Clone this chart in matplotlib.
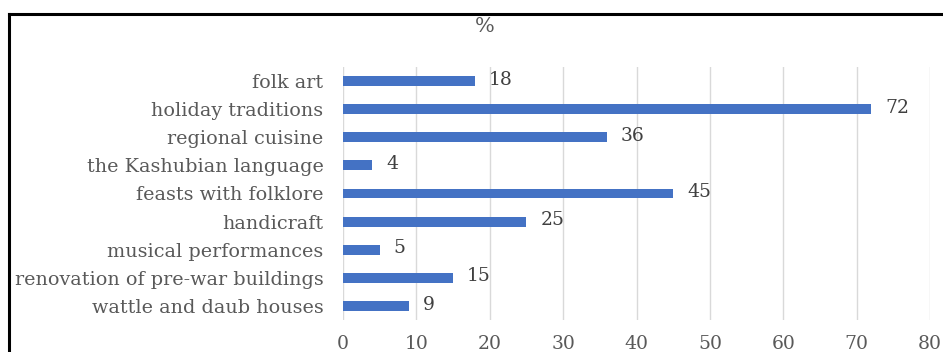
import matplotlib.pyplot as plt
from matplotlib.lines import Line2D

# data (top to bottom as shown)
categories = ['folk art', 'holiday traditions', 'regional cuisine', 'the Kashubian language',
              'feasts with folklore', 'handicraft', 'musical performances',
              'renovation of pre-war buildings', 'wattle and daub houses']
values = [18, 72, 36, 4, 45, 25, 5, 15, 9]
x_ticks = [0, 10, 20, 30, 40, 50, 60, 70, 80]

plt.rcParams['font.family'] = ['DejaVu Serif']
text_color = '#595959'

fig = plt.figure(figsize=(9.43, 3.52), dpi=100)
ax = fig.add_axes([343 / 943, 32 / 352, 587 / 943, 253 / 352])

pos = list(range(len(categories)))[::-1]
ax.barh(pos, values, height=0.35, color='#4472C4', zorder=3)

# value labels next to each bar
for p, v in zip(pos, values):
    ax.text(v + 1.9, p + 0.05, str(v), va='center', ha='left', fontsize=13.5, color='#404040')

ax.set_xlim(0, 80)
ax.set_ylim(-0.5, len(categories) - 0.5)
ax.set_xticks(x_ticks)
ax.set_yticks(pos)
ax.set_yticklabels(categories, fontsize=13.8)
ax.tick_params(axis='both', length=0, colors=text_color)
ax.tick_params(axis='x', pad=11, labelsize=13.5)
ax.tick_params(axis='y', pad=14)
ax.grid(axis='x', color='#d9d9d9', linewidth=1, zorder=0)
for s in ax.spines.values():
    s.set_visible(False)

# axis title placed above the plot
fig.text(485 / 943, 1 - 27 / 352, '%', ha='center', va='center', fontsize=15, color=text_color)

# frame of the original screenshot (top and left edges only)
fig.add_artist(Line2D([8.5 / 943, 1], [1 - 14 / 352, 1 - 14 / 352], color='black', linewidth=2.2,
                      transform=fig.transFigure))
fig.add_artist(Line2D([8.5 / 943, 8.5 / 943], [0, 1 - 14 / 352], color='black', linewidth=2.2,
                      transform=fig.transFigure))

fig.savefig('out.png', dpi=100)
